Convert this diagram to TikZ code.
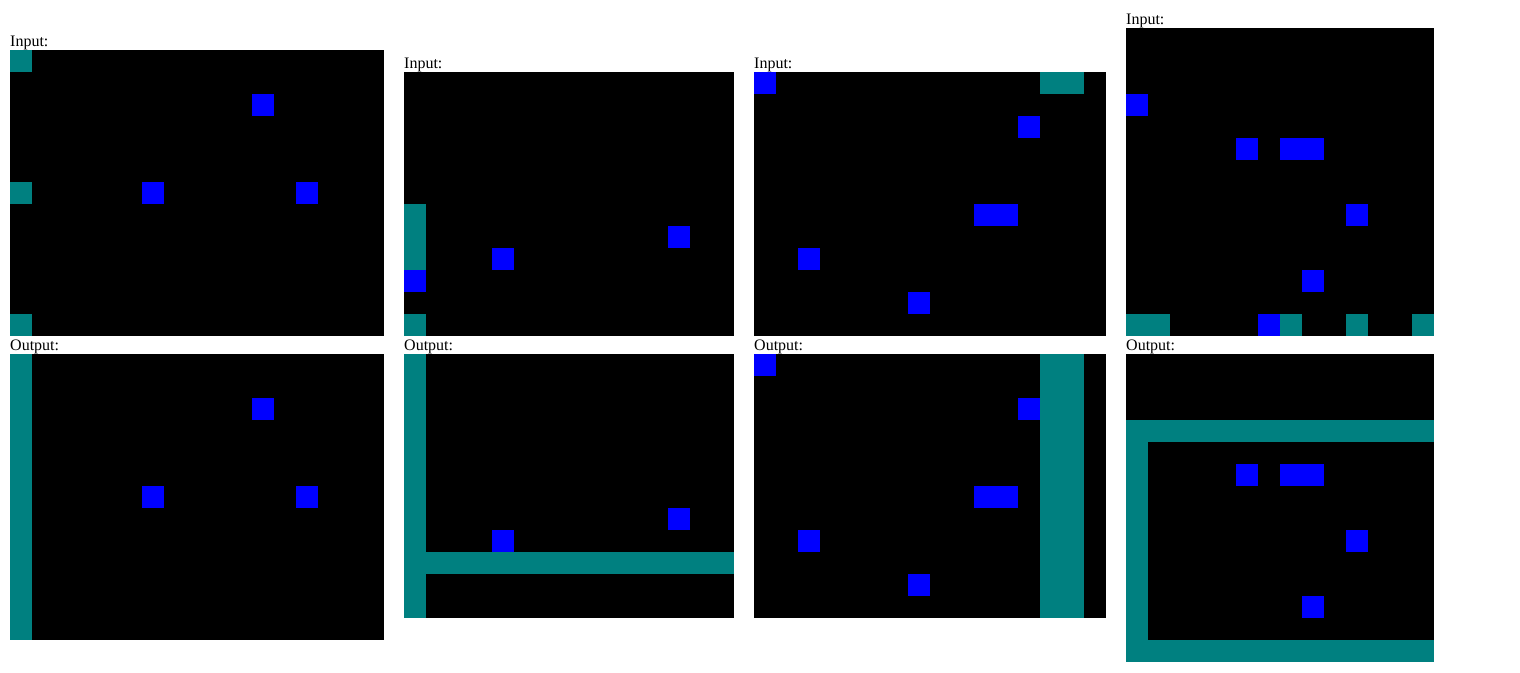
\documentclass[tikz,border=0pt]{standalone}
\usepackage{fontspec}
\setmainfont{Liberation Serif}

\definecolor{arcteal}{HTML}{008080}
\definecolor{arcblue}{HTML}{0000FF}

% one black board with its caption above it
\newcommand{\board}[6]{% #1 name, #2 x, #3 y, #4 cols, #5 rows, #6 caption
  \coordinate (#1) at (#2,#3);
  \fill[bg] (#1) rectangle ++(#4*22,#5*22);
  \node[lbl] (#1-lbl) at (#1) {#6};}

% coloured blocks on a board, given as col1/row1/col2/row2
\newcommand{\cells}[3]{%
  \begin{scope}[shift={(#1)}, x=22pt, y=-22pt]
    \foreach \ca/\ra/\cb/\rb in {#3}
      \fill[#2] (\ca,\ra) rectangle (\cb+1,\rb+1);
  \end{scope}}

\begin{document}
\begin{tikzpicture}[
  x=1pt, y=-1pt, font=\fontsize{16}{16}\selectfont,
  bg/.style  = {fill=black},
  tl/.style  = {fill=arcteal},
  bl/.style  = {fill=arcblue},
  lbl/.style = {anchor=south west, inner sep=0pt},
]
  \fill[white] (0,0) rectangle (1520,672);
  \useasboundingbox (0,0) rectangle (1520,672);

  % ---- pair 1 -----------------------------------------------
  \board{in1}{10}{50}{17}{13}{Input:}
  \cells{in1}{tl}{0/0/0/0, 0/6/0/6, 0/12/0/12}
  \cells{in1}{bl}{11/2/11/2, 6/6/6/6, 13/6/13/6}
  \board{out1}{10}{354}{17}{13}{Output:}
  \cells{out1}{tl}{0/0/0/12}
  \cells{out1}{bl}{11/2/11/2, 6/6/6/6, 13/6/13/6}

  % ---- pair 2 -----------------------------------------------
  \board{in2}{404}{72}{15}{12}{Input:}
  \cells{in2}{tl}{0/6/0/8, 0/11/0/11}
  \cells{in2}{bl}{0/9/0/9, 12/7/12/7, 4/8/4/8}
  \board{out2}{404}{354}{15}{12}{Output:}
  \cells{out2}{tl}{0/0/0/11, 0/9/14/9}
  \cells{out2}{bl}{12/7/12/7, 4/8/4/8}

  % ---- pair 3 -----------------------------------------------
  \board{in3}{754}{72}{16}{12}{Input:}
  \cells{in3}{tl}{13/0/14/0}
  \cells{in3}{bl}{0/0/0/0, 12/2/12/2, 10/6/11/6, 2/8/2/8, 7/10/7/10}
  \board{out3}{754}{354}{16}{12}{Output:}
  \cells{out3}{tl}{13/0/14/11}
  \cells{out3}{bl}{0/0/0/0, 12/2/12/2, 10/6/11/6, 2/8/2/8, 7/10/7/10}

  % ---- pair 4 -----------------------------------------------
  \board{in4}{1126}{28}{14}{14}{Input:}
  \cells{in4}{tl}{0/13/1/13, 7/13/7/13, 10/13/10/13, 13/13/13/13}
  \cells{in4}{bl}{0/3/0/3, 5/5/5/5, 7/5/8/5, 10/8/10/8, 8/11/8/11, 6/13/6/13}
  \board{out4}{1126}{354}{14}{14}{Output:}
  \cells{out4}{tl}{0/3/13/3, 0/3/0/13, 0/13/13/13}
  \cells{out4}{bl}{5/5/5/5, 7/5/8/5, 10/8/10/8, 8/11/8/11}
\end{tikzpicture}
\end{document}
